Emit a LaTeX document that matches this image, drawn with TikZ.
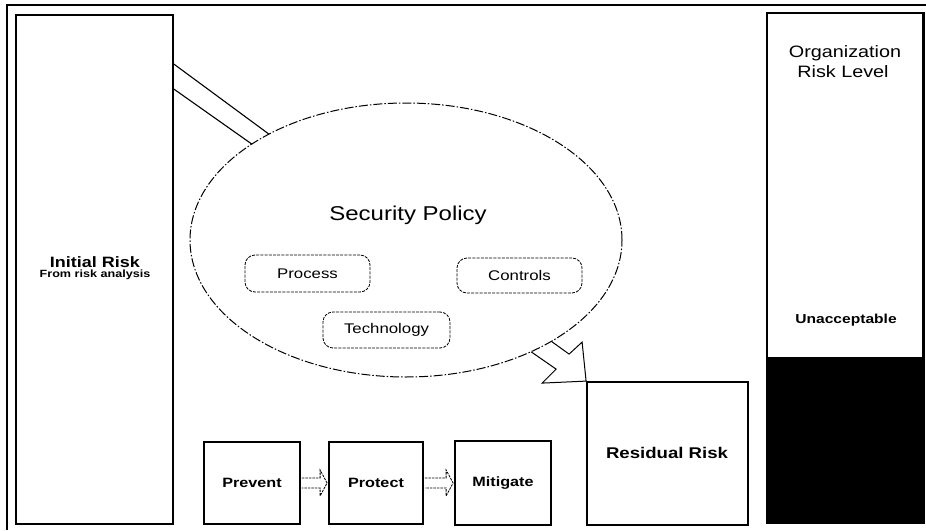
\documentclass[tikz,border=0pt]{standalone}
\usepackage{fontspec}
\setmainfont{Liberation Sans}[FakeStretch=1.2]
\usetikzlibrary{calc,shapes.geometric}
\newcommand{\fsz}[1]{\fontsize{#1}{#1}\selectfont}
\begin{document}
\begin{tikzpicture}[x=1pt,y=-1pt,
  box/.style={draw=black,line width=1.8pt,inner sep=0pt,fill=white},
  softbox/.style={draw=black,line width=0.8pt,dash pattern=on 3pt off 1.2pt,rounded corners=10pt,inner sep=0pt},
  policy/.style={ellipse,draw=black,fill=white,line width=1pt,dash pattern=on 9pt off 2pt on 1.5pt off 2pt,inner sep=0pt},
  shaft/.style={draw=black,line width=1.1pt},
  small/.style={draw=black,line width=0.8pt,dash pattern=on 2.5pt off 1pt,fill=white,line join=miter},
  txt/.style={inner sep=0pt,anchor=center}
]
\useasboundingbox (0,0) rectangle (926,530);
% outer frame
\draw[line width=1.8pt] (7,530) -- (7,5) -- (926,5);

% initial risk box
\node[box,minimum width=157pt,minimum height=509pt] (init) at (94.5,269.5) {};
\node[txt] (initT) at (95,262) {\fsz{15}\bfseries Initial Risk};
\node[txt] (initS) at (95,275) {\fsz{10.5}\bfseries From risk analysis};

% shaft from initial risk into the policy ellipse
\coordinate (s1) at ($(init.north east)+(0,50)$);
\coordinate (s2) at ($(init.north east)+(0,75)$);
\coordinate (e1) at (300,157);
\coordinate (e2) at (290,171);
\draw[shaft] (s1) -- (e1);
\draw[shaft] (s2) -- (e2);

% residual risk box
\node[box,minimum width=161pt,minimum height=143pt] (res) at (667.5,453.5) {};
\node[txt] (resT) at (667,453) {\fsz{15.5}\bfseries Residual Risk};

% block arrow from policy to residual risk
\coordinate (tip) at (res.north west);
\coordinate (a1) at ($(tip)+(-49,-50)$);
\coordinate (a2) at ($(tip)+(-17,-27)$);
\coordinate (a3) at ($(tip)+(-4,-39)$);
\coordinate (a4) at ($(tip)+(-44,2)$);
\coordinate (a5) at ($(tip)+(-30,-12)$);
\coordinate (a6) at ($(tip)+(-69,-39)$);
\draw[shaft,fill=white,line width=1pt,line join=miter] (a1) -- (a2) -- (a3) -- (tip) -- (a4) -- (a5) -- (a6);

% security policy ellipse
\node[policy,minimum width=432pt,minimum height=274pt] (pol) at (406,240) {};
\node[txt] (polT) at (408,215) {\fsz{20}Security Policy};
\node[softbox,minimum width=125pt,minimum height=37pt] (proc) at (307.5,273.5) {\fsz{14}Process};
\node[softbox,minimum width=125pt,minimum height=35pt] (ctrl) at (519.5,275.5) {\fsz{14}Controls};
\node[softbox,minimum width=127pt,minimum height=36pt] (tech) at (386.5,330) {\fsz{14}Technology};

% bottom process chain
\node[box,minimum width=96pt,minimum height=82pt] (prev) at (252,483) {\fsz{13.5}\bfseries Prevent};
\node[box,minimum width=94pt,minimum height=82pt] (prot) at (376,483) {\fsz{13.5}\bfseries Protect};
\node[box,minimum width=96pt,minimum height=84pt] (miti) at (503,483) {\fsz{13.5}\bfseries Mitigate};

\draw[small] ($(prev.east)+(1,-5)$) -- ($(prot.west)+(-8,-5)$) -- ($(prot.west)+(-8,-13)$)
  -- ($(prot.west)+(-1,0)$) -- ($(prot.west)+(-8,13)$) -- ($(prot.west)+(-8,5)$) -- ($(prev.east)+(1,5)$);
\draw[small] ($(prot.east)+(1,-5)$) -- ($(miti.west)+(-8,-5)$) -- ($(miti.west)+(-8,-13)$)
  -- ($(miti.west)+(-1,0)$) -- ($(miti.west)+(-8,13)$) -- ($(miti.west)+(-8,5)$) -- ($(prot.east)+(1,5)$);

% organization risk level column
\node[box,line width=1.5pt,minimum width=156pt,minimum height=509pt] (org) at (845,267.5) {};
\fill[black] ($(org.south west)+(0,0)$) rectangle ($(org.south east)+(0,-166)$);
\draw[line width=1.5pt] (org.north west) rectangle (org.south east);
\node[txt] (orgT) at (845,53) {\fsz{16.5}Organization};
\node[txt] (orgS) at (843,72) {\fsz{16.5}Risk Level};
\node[txt] (unac) at (846,320) {\fsz{13}\bfseries Unacceptable};
\end{tikzpicture}
\end{document}
